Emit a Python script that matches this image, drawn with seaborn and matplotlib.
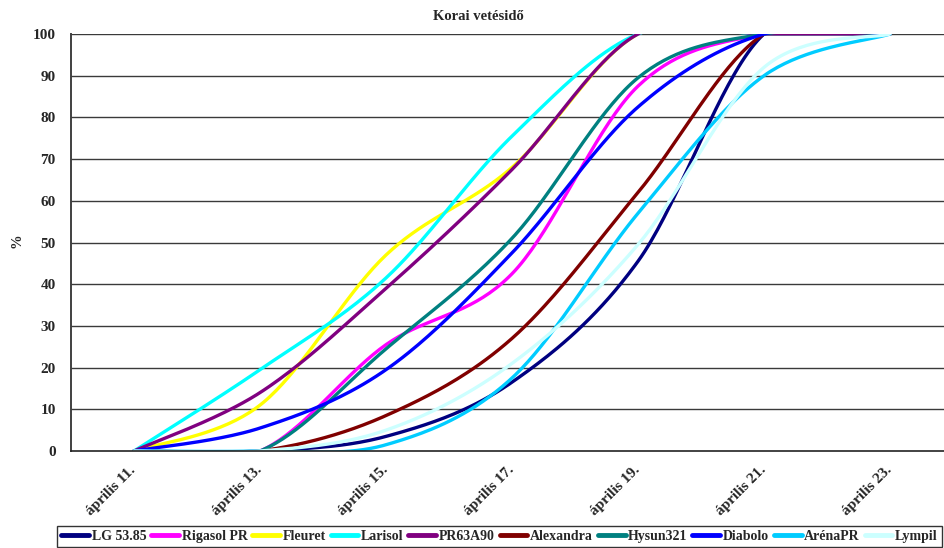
import numpy as np
import pandas as pd
import matplotlib
matplotlib.use("Agg")
import matplotlib.pyplot as plt
import matplotlib.transforms as mtransforms
from matplotlib.lines import Line2D
from matplotlib.ticker import FixedLocator, NullFormatter
import seaborn as sns

# Sowing-date categories (x axis)
dates = ["április 11.", "április 13.", "április 15.", "április 17.",
         "április 19.", "április 21.", "április 23."]

# Cumulative emergence (%) per hybrid
lg_5385   = [0, 0, 3.5, 16.5, 45.5, 100, 100]
rigasol   = [0, 0, 25.5, 42.5, 87.5, 100, 100]
fleuret   = [0, 11, 47, 68, 100, 100, 100]
larisol   = [0, 19.5, 41.5, 75.5, 100, 100, 100]
pr63a90   = [0, 14, 39, 67.5, 100, 100, 100]
alexandra = [0, 0, 8.5, 27, 62, 100, 100]
hysun321  = [0, 0, 24.5, 51, 89.5, 100, 100]
diabolo   = [0, 5.5, 19.5, 47.5, 82.5, 100, 100]
arena_pr  = [0, 0, 1.5, 17.5, 57, 90, 100]
lympil    = [0, 0, 5, 21, 49.5, 92, 100]

names = ["LG 53.85", "Rigasol PR", "Fleuret", "Larisol", "PR63A90",
         "Alexandra", "Hysun321", "Diabolo", "ArénaPR", "Lympil"]
series = [lg_5385, rigasol, fleuret, larisol, pr63a90,
          alexandra, hysun321, diabolo, arena_pr, lympil]
colors = ["#000080", "#FF00FF", "#FFFF00", "#00FFFF", "#800080",
          "#800000", "#008080", "#0000FF", "#00CCFF", "#CCFFFF"]


def smooth(values, steps=40):
    """Cubic Bezier smoothing through every point (spreadsheet-style)."""
    y = np.asarray(values, float)
    x = np.arange(len(y), dtype=float)
    n = len(y)
    t = np.linspace(0, 1, steps)
    xs, ys = [], []
    for i in range(n - 1):
        im = max(i - 1, 0)
        ip = min(i + 2, n - 1)
        px = [x[i], x[i] + (x[i + 1] - x[im]) / 6, x[i + 1] - (x[ip] - x[i]) / 6, x[i + 1]]
        py = [y[i], y[i] + (y[i + 1] - y[im]) / 6, y[i + 1] - (y[ip] - y[i]) / 6, y[i + 1]]
        b = [(1 - t) ** 3, 3 * (1 - t) ** 2 * t, 3 * (1 - t) * t ** 2, t ** 3]
        seg_x = sum(bi * p for bi, p in zip(b, px))
        seg_y = sum(bi * p for bi, p in zip(b, py))
        if i < n - 2:
            seg_x, seg_y = seg_x[:-1], seg_y[:-1]
        xs.append(seg_x)
        ys.append(seg_y)
    return np.concatenate(xs), np.concatenate(ys)


frames = []
for name, vals in zip(names, series):
    sx, sy = smooth(vals)
    frames.append(pd.DataFrame({"nap": sx, "pct": sy, "fajta": name}))
df = pd.concat(frames, ignore_index=True)

sns.set_style("white")
plt.rcParams["font.family"] = ["Liberation Serif", "DejaVu Serif"]
plt.rcParams["font.weight"] = "bold"

fig = plt.figure(figsize=(9.44, 5.48), dpi=100)
ax = fig.add_axes([71 / 944, 97 / 548, 882 / 944, 417 / 548])

for gy in range(10, 101, 10):
    ax.axhline(gy, color="#3a3a3a", lw=1.0, zorder=0)

sns.lineplot(data=df, x="nap", y="pct", hue="fajta", hue_order=names,
             palette=dict(zip(names, colors)), sort=False, estimator=None,
             linewidth=2.4, legend=False, ax=ax)

ax.set_xlim(-0.5, 6.5)
ax.set_ylim(0, 100)
ax.set_xlabel("")
ax.set_ylabel("")

for side in ["top", "right"]:
    ax.spines[side].set_visible(False)
ax.spines["left"].set_color("#404040")
ax.spines["left"].set_linewidth(1.4)
ax.spines["bottom"].set_color("#222222")
ax.spines["bottom"].set_linewidth(1.2)

ax.set_yticks(range(0, 101, 10))
ax.tick_params(axis="y", which="major", direction="out", length=5, width=1,
               color="#404040", pad=6, labelsize=11)
ax.set_xticks(range(len(dates)))
ax.set_xticklabels(dates, rotation=45, ha="right", va="top",
                   rotation_mode="anchor", fontsize=11, fontweight="bold")
ax.tick_params(axis="x", which="major", length=0, pad=9)
ax.xaxis.set_minor_locator(FixedLocator(np.arange(-0.5, 7, 1.0)))
ax.xaxis.set_minor_formatter(NullFormatter())
ax.tick_params(axis="x", which="minor", direction="out", length=4, width=1,
               color="#404040")
shift = mtransforms.ScaledTranslation(-5 / 100, 0, fig.dpi_scale_trans)
for lbl in ax.get_xticklabels():
    lbl.set_transform(lbl.get_transform() + shift)
for lbl in ax.get_yticklabels():
    lbl.set_fontweight("bold")

fig.text(478 / 944, 1 - 17 / 548, "Korai vetésidő", ha="center", va="center",
         fontsize=10.5, fontweight="bold")
fig.text(17 / 944, 1 - 241 / 548, "%", ha="center", va="center",
         rotation=90, fontsize=10.5, fontweight="bold")

handles = [Line2D([], [], color=c, lw=3.5) for c in colors]
leg = fig.legend(handles, names, loc="lower left",
                 bbox_to_anchor=(57 / 944, 1 / 548, (942 - 57) / 944, 22 / 548),
                 mode="expand", ncol=10, frameon=True, fancybox=False,
                 edgecolor="black", handlelength=2.0, handletextpad=0.2,
                 columnspacing=0.5, borderpad=0.3, borderaxespad=0,
                 prop={"family": "Liberation Serif", "weight": "bold", "size": 10})
leg.get_frame().set_linewidth(1.0)

fig.savefig("out.png", dpi=100)
